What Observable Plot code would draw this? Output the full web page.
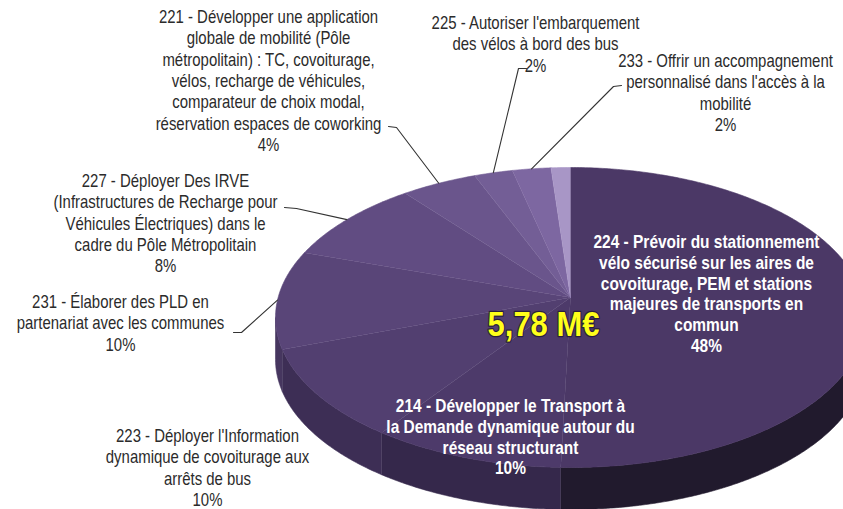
<!DOCTYPE html>
<html><head><meta charset="utf-8">
<script src="https://cdn.jsdelivr.net/npm/d3@7"></script>
<script src="https://cdn.jsdelivr.net/npm/@observablehq/plot@0.6"></script>
<style>body{margin:0;background:#fff} svg{display:block}</style>
</head><body><div id="chart"></div>
<script>
// ---- data ----
const codes = ["224","214","223","231","227","221","225","233","autre"];
const titles = [
 "224 - Prévoir du stationnement\nvélo sécurisé sur les aires de\ncovoiturage, PEM et stations\nmajeures de transports en\ncommun",
 "214 - Développer le Transport à\nla Demande dynamique autour du\nréseau structurant",
 "223 - Déployer l'Information\ndynamique de covoiturage aux\narrêts de bus",
 "231 - Élaborer des PLD en\npartenariat avec les communes",
 "227 - Déployer Des IRVE\n(Infrastructures de Recharge pour\nVéhicules Électriques) dans le\ncadre du Pôle Métropolitain",
 "221 - Développer une application\nglobale de mobilité (Pôle\nmétropolitain) : TC, covoiturage,\nvélos, recharge de véhicules,\ncomparateur de choix modal,\nréservation espaces de coworking",
 "225 - Autoriser l'embarquement\ndes vélos à bord des bus",
 "233 - Offrir un accompagnement\npersonnalisé dans l'accès à la\nmobilité",
 ""];
const shares = [48, 10, 10, 10, 8, 4, 2, 2, 1];
const percentLabels = ["48%","10%","10%","10%","8%","4%","2%","2%",""];
const totalLabel = "5,78 M€";

// ---- styles / layout ----
const topColors  = ["#4b3866","#4d3a6a","#523f70","#594578","#614c82","#6a558c","#735e96","#7d67a1","#a896c6"];
const sideColors = ["#211a2d","#35284b","#3d2e55","#46365f","#4f3e6a","#574673","#5f4d7c","#675485","#8a79a8"];
const G = {cx: 570, cy: 317, rx: 295, ry: 150, depth: 42, apexY: 297};
// label block: [centerX, topY, inside?]
const labelLayout = {
  "224": [706, 233, true], "214": [510, 397, true], "223": [207, 426, false],
  "231": [120, 292, false], "227": [165, 171, false], "221": [268, 7, false],
  "225": [535, 13, false], "233": [725, 51, false]
};
// leader line label-side points [startX, startY, elbowX, elbowY]
const leaderLayout = {
  "231": [233, 332, 241, 332], "227": [284, 207, 296, 208],
  "221": [388, 126, 396, 127], "225": [526, 68, 518, 68], "233": [621, 85, 613, 86]
};
const narrow = [0.83, 0.86, 0.86]; // horizontal condensing: outside labels, inside labels, total

// ---- geometry from data ----
const pie = d3.pie().sort(null).value(d => d)(shares);
const P = (t, dy = 0) => ({x: G.cx + G.rx * Math.sin(t), y: G.cy - G.ry * Math.cos(t) + dy});
const arcPts = (a, b, dy = 0) => {
  const n = Math.max(2, Math.ceil((b - a) / 0.01));
  return d3.range(n + 1).map(i => P(a + (b - a) * i / n, dy));
};
const tops = [], sides = [];
pie.forEach((s, i) => {
  const key = codes[i];
  tops.push({x: G.cx, y: G.apexY, key, c: topColors[i]});
  arcPts(s.startAngle, s.endAngle).forEach(p => tops.push({...p, key, c: topColors[i]}));
  const a = Math.max(s.startAngle, Math.PI / 2), b = Math.min(s.endAngle, 3 * Math.PI / 2);
  if (b > a) {
    const up = arcPts(a, b), dn = arcPts(a, b, G.depth).reverse();
    [...up, ...dn].forEach(p => sides.push({...p, key, c: sideColors[i]}));
  }
});
const leaders = [];
pie.forEach((s, i) => {
  const L = leaderLayout[codes[i]];
  if (!L) return;
  const m = P((s.startAngle + s.endAngle) / 2);
  [{x: L[0], y: L[1]}, {x: L[2], y: L[3]}, m].forEach(p => leaders.push({...p, key: codes[i]}));
});
const labels = codes.map((k, i) => labelLayout[k] ? {
  x: labelLayout[k][0], y: labelLayout[k][1], inside: labelLayout[k][2],
  text: titles[i] + "\n" + percentLabels[i]} : null).filter(Boolean);

const font = "'Liberation Sans',Arial,sans-serif";
const chart = Plot.plot({
  width: 843, height: 509, margin: 0,
  x: {domain: [0, 843], range: [0, 843], axis: null},
  y: {domain: [0, 509], range: [0, 509], axis: null},
  color: {type: "identity"},
  style: {fontFamily: font, background: "#fff"},
  marks: [
    Plot.line(sides, {x: "x", y: "y", z: "key", fill: "c", stroke: "c", strokeWidth: 0.6}),
    Plot.line(tops, {x: "x", y: "y", z: "key", fill: "c", stroke: "c", strokeWidth: 0.6}),
    Plot.line(leaders, {x: "x", y: "y", z: "key", stroke: "#333", strokeWidth: 1.1}),
    Plot.text(labels.filter(d => !d.inside), {x: "x", y: "y", text: "text", lineAnchor: "top",
      textAnchor: "middle", fontSize: 18, lineHeight: 1.19, fill: "#2b2b2b", fontFamily: font}),
    Plot.text(labels.filter(d => d.inside), {x: "x", y: "y", text: "text", lineAnchor: "top",
      textAnchor: "middle", fontSize: 18, lineHeight: 1.15, fill: "#ffffff", fontWeight: "bold", fontFamily: font}),
    Plot.text([totalLabel], {x: () => 543, y: () => 324, text: d => d, fontSize: 36, fontWeight: "bold",
      fill: "#ffff1a", stroke: "#2a1f3a", strokeWidth: 2.5, paintOrder: "stroke", textAnchor: "middle", fontFamily: font})
  ]
});
// condense the text horizontally (narrow typeface look)
d3.select(chart).selectAll('g[aria-label="text"]').each(function(_, gi) {
  const k = narrow[gi] ?? 1;
  d3.select(this).selectAll("text").each(function() {
    const t = this.getAttribute("transform");
    if (t) this.setAttribute("transform", t + ` scale(${k},1)`);
    else {
      const x = +this.getAttribute("x") || 0, y = +this.getAttribute("y") || 0;
      this.removeAttribute("x"); this.removeAttribute("y");
      this.setAttribute("transform", `translate(${x},${y}) scale(${k},1)`);
      d3.select(this).selectAll("tspan").attr("x", 0);
    }
  });
});
document.getElementById("chart").appendChild(chart);
</script></body></html>
